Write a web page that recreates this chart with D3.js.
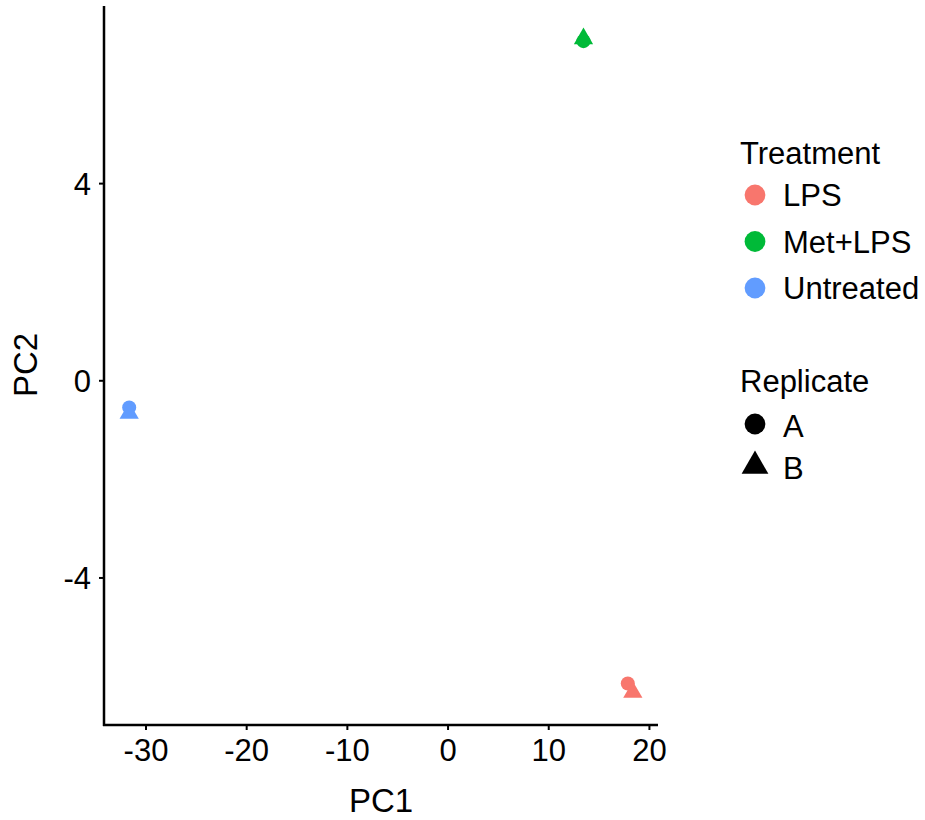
<!DOCTYPE html>
<html>
<head>
<meta charset="utf-8">
<script src="https://cdn.jsdelivr.net/npm/d3@7"></script>
<style>
body { margin: 0; background: #fff; }
svg { font-family: "Liberation Sans", Arial, sans-serif; }
</style>
</head>
<body>
<svg id="chart" width="925" height="820"></svg>
<script>
// data
var samples = ["Untreated A", "Untreated B", "Met+LPS A", "Met+LPS B", "LPS A", "LPS B"]
var treatment = ["Untreated", "Untreated", "Met+LPS", "Met+LPS", "LPS", "LPS"]
var replicate = ["A", "B", "A", "B", "A", "B"]
var pc1 = [-31.62, -31.62, 13.5, 13.5, 17.9, 18.4]
var pc2 = [-0.55, -0.67, 6.88, 6.93, -6.15, -6.33]
var treatments = ["LPS", "Met+LPS", "Untreated"]
var treatColors = ["#F8766D", "#00BA38", "#619CFF"]
var replicates = ["A", "B"]
var xTicks = [-30, -20, -10, 0, 10, 20]
var yTicks = [-4, 0, 4]

var margin = {left: 104, top: 6, right: 658, bottom: 725}
var svg = d3.select("#chart")

var pts = samples.map((s, i) => ({name: s, t: treatment[i], r: replicate[i], x: pc1[i], y: pc2[i]}))

// ggplot style 5% expansion
var xr = d3.extent(pc1), yr = d3.extent(pc2)
var xpad = (xr[1] - xr[0]) * 0.05, ypad = (yr[1] - yr[0]) * 0.05
var x = d3.scaleLinear().domain([xr[0] - xpad, xr[1] + xpad]).range([margin.left, margin.right])
var y = d3.scaleLinear().domain([yr[0] - ypad, yr[1] + ypad]).range([margin.bottom, margin.top])
var color = d3.scaleOrdinal().domain(treatments).range(treatColors)
var shape = d3.scaleOrdinal().domain(replicates).range([d3.symbolCircle, d3.symbolTriangle])
var symSize = {A: 155, B: 160}
var keySize = {A: 340, B: 310}

// axes
var xAxis = svg.append("g")
	.attr("transform", "translate(0," + margin.bottom + ")")
	.call(d3.axisBottom(x).tickValues(xTicks).tickSize(5).tickPadding(9).tickFormat(d => String(d)))
var yAxis = svg.append("g")
	.attr("transform", "translate(" + margin.left + ",0)")
	.call(d3.axisLeft(y).tickValues(yTicks).tickSize(5).tickPadding(8).tickFormat(d => String(d)))
;[xAxis, yAxis].forEach(a => {
	a.select(".domain").attr("stroke", "#000").attr("stroke-width", 2.5)
	a.selectAll(".tick line").attr("stroke", "#000").attr("stroke-width", 2)
	a.selectAll(".tick text").attr("fill", "#000").style("font-size", "31px")
		.style("font-family", "Liberation Sans, Arial, sans-serif")
})
xAxis.select(".domain").attr("d", "M" + (margin.left - 1) + ",0H" + margin.right)
yAxis.select(".domain").attr("d", "M0," + margin.top + "V" + (margin.bottom + 1))
xAxis.selectAll(".tick text").attr("dy", "0.71em")
yAxis.selectAll(".tick text").attr("dy", "0.36em")

// axis titles
svg.append("text")
	.attr("x", (margin.left + margin.right) / 2)
	.attr("y", 812)
	.attr("text-anchor", "middle")
	.style("font-size", "33px")
	.text("PC1")
svg.append("text")
	.attr("transform", "translate(37,365) rotate(-90)")
	.attr("text-anchor", "middle")
	.style("font-size", "33px")
	.text("PC2")

// points
svg.append("g").selectAll("path").data(pts).enter().append("path")
	.attr("transform", d => "translate(" + x(d.x) + "," + y(d.y) + ")")
	.attr("d", d => d3.symbol().type(shape(d.r)).size(symSize[d.r])())
	.attr("fill", d => color(d.t))

// legend
var leg = svg.append("g").attr("transform", "translate(740,0)")
leg.append("text").attr("x", 0).attr("y", 164).style("font-size", "31px").text("Treatment")
treatments.forEach((t, i) => {
	var cy = 195 + i * 46.5
	leg.append("path")
		.attr("transform", "translate(15," + cy + ")")
		.attr("d", d3.symbol().type(d3.symbolCircle).size(keySize.A)())
		.attr("fill", color(t))
	leg.append("text").attr("x", 43).attr("y", cy + 11).style("font-size", "31px").text(t)
})
leg.append("text").attr("x", 0).attr("y", 392).style("font-size", "31px").text("Replicate")
replicates.forEach((r, i) => {
	var cy = 424 + i * 42
	leg.append("path")
		.attr("transform", "translate(15," + cy + ")")
		.attr("d", d3.symbol().type(shape(r)).size(keySize[r])())
		.attr("fill", "#000")
	leg.append("text").attr("x", 43).attr("y", cy + 13).style("font-size", "31px").text(r)
})
</script>
</body>
</html>
